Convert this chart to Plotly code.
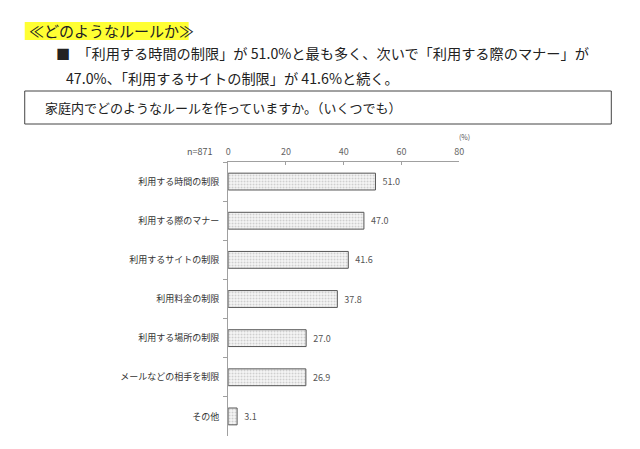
import plotly.graph_objects as go

# data
categories = ["利用する時間の制限", "利用する際のマナー", "利用するサイトの制限",
              "利用料金の制限", "利用する場所の制限", "メールなどの相手を制限", "その他"]
values = [51.0, 47.0, 41.6, 37.8, 27.0, 26.9, 3.1]
x_ticks = [0, 20, 40, 60, 80]

title = "≪どのようなルールか≫"
line1 = "■　「利用する時間の制限」が 51.0%と最も多く、次いで「利用する際のマナー」が"
line2 = "47.0%、「利用するサイトの制限」が 41.6%と続く。"
question = "家庭内でどのようなルールを作っていますか。（いくつでも）"
n_label = "n=871"

W, H = 640, 449
jp = "Noto Sans CJK JP"


def px(x):
    return x / W


def py(y):
    return 1 - y / H


fig = go.Figure()
fig.add_trace(go.Bar(
    x=values, y=categories, orientation="h",
    width=0.43,
    marker=dict(color="#f6f6f6",
                line=dict(color="#555555", width=1),
                pattern=dict(shape=".", fgcolor="#a0a0a0", bgcolor="#f6f6f6",
                             size=3, solidity=0.3)),
    text=[f"  {v:.1f}" for v in values],
    textposition="outside",
    textfont=dict(family=jp, size=9, color="#555555"),
    cliponaxis=False,
    hoverinfo="skip",
))

fig.update_layout(
    width=W, height=H,
    margin=dict(l=0, r=0, t=0, b=0),
    paper_bgcolor="white", plot_bgcolor="white",
    showlegend=False,
    font=dict(family=jp, color="#333333"),
    xaxis=dict(domain=[px(228), px(462)], range=[0, 80], side="top",
               tickvals=x_ticks, showgrid=False, zeroline=False,
               showline=True, linecolor="#a0a0a0", linewidth=1,
               ticks="inside", ticklen=3, tickcolor="#a0a0a0",
               ticklabelstandoff=2,
               tickfont=dict(family=jp, size=9, color="#666666")),
    yaxis=dict(domain=[py(436), py(162)], categoryorder="array",
               categoryarray=categories, autorange="reversed",
               showgrid=False, zeroline=False,
               showline=True, linecolor="#a0a0a0", linewidth=1,
               ticks="outside", tickson="boundaries", ticklen=4,
               tickcolor="#a0a0a0", ticklabelstandoff=6,
               tickfont=dict(family=jp, size=9, color="#333333")),
)

# header block
fig.add_shape(type="rect", xref="paper", yref="paper",
              x0=px(22), x1=px(188), y0=py(40), y1=py(22),
              fillcolor="#ffff33", line=dict(width=0), layer="below")
fig.add_shape(type="rect", xref="paper", yref="paper",
              x0=px(22), x1=px(616), y0=py(124), y1=py(91),
              fillcolor="rgba(0,0,0,0)", line=dict(color="#444444", width=1))

notes = [
    (title, 24, 31, 15),
    (line1, 52, 53, 14.2),
    (line2, 62, 78, 14.2),
    (question, 40, 108, 13),
]
for txt, x, y, size in notes:
    fig.add_annotation(text=txt, xref="paper", yref="paper",
                       x=px(x), y=py(y), xanchor="left", yanchor="middle",
                       showarrow=False,
                       font=dict(family=jp, size=size, color="#222222"))

fig.add_annotation(text=n_label, xref="paper", yref="paper",
                   x=px(214), y=py(151), xanchor="right", yanchor="middle",
                   showarrow=False, font=dict(family=jp, size=9, color="#555555"))
fig.add_annotation(text="(%)", xref="paper", yref="paper",
                   x=px(467), y=py(137), xanchor="center", yanchor="middle",
                   showarrow=False, font=dict(family=jp, size=7, color="#555555"))

# drop the default page margin so the figure sits at the window's corner
fig.write_html("out.html", config={"displayModeBar": False},
               post_script="document.body.style.margin='0';")
